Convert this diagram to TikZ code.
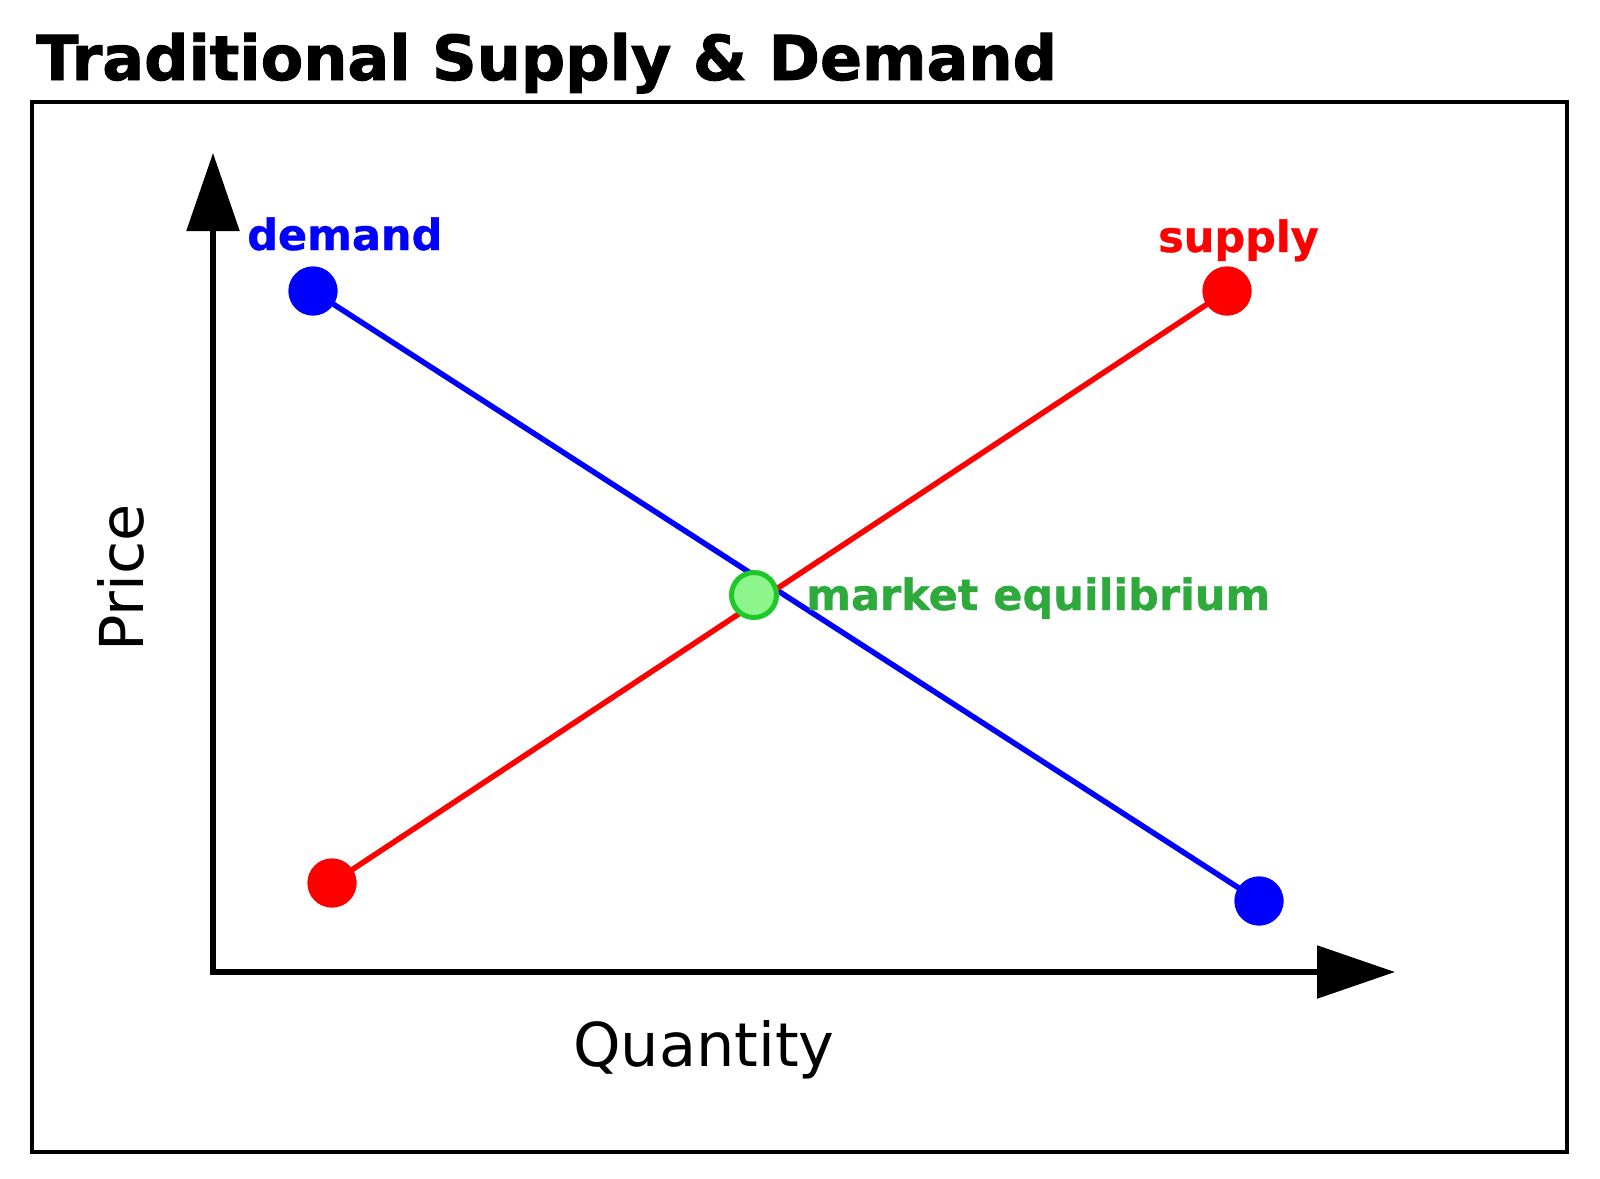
\documentclass[tikz,border=0pt]{standalone}
\usepackage{fontspec}
\setmainfont{DejaVu Sans}
\newfontfamily\heavyfont{DejaVu Sans Bold}[FakeBold=1.5]
\newfontfamily\labelfont{DejaVu Sans Bold}[FakeBold=0.8]
\usetikzlibrary{arrows.meta}
\definecolor{eqtext}{RGB}{46,170,60}
\definecolor{eqfill}{RGB}{140,245,140}
\definecolor{eqdraw}{RGB}{30,200,40}
\tikzset{
  dot/.style={circle,inner sep=0pt,minimum size=49pt,fill=#1},
  curve/.style={line width=5.5pt,draw=#1},
  lbl/.style={inner sep=0pt,anchor=base west,font=\fontsize{43}{50}\labelfont,text=#1},
  axlbl/.style={inner sep=0pt,anchor=base west,font=\fontsize{60.5}{70}\selectfont},
}
\begin{document}
\begin{tikzpicture}[x=1pt,y=-1pt]
\useasboundingbox (0,0) rectangle (1600,1178);
\node[inner sep=0pt,anchor=base west,font=\fontsize{62}{70}\heavyfont] (title) at (36,80) {Traditional Supply \& Demand};
\draw[line width=3.5pt] (32,102) rectangle (1567,1152);
% axes
\coordinate (o) at (213,972);
\coordinate (ytip) at (213,153);
\coordinate (xtip) at (1395,972);
\draw[line width=5.5pt,line join=miter,{Triangle[length=78pt,width=52pt]}-{Triangle[length=78pt,width=52pt]}] (ytip) -- (o) -- (xtip);
\node[axlbl,rotate=90] (price) at (143,652) {Price};
\node[axlbl] (qty) at (573,1066) {Quantity};
% dots
\node[dot=blue] (d1) at (313,291) {};
\node[dot=blue] (d2) at (1259,901) {};
\node[dot=red] (s1) at (332,883) {};
\node[dot=red] (s2) at (1227,291) {};
\draw[curve=blue] (d1.center) -- (d2.center);
\draw[curve=red] (s1.center) -- (s2.center);
\node[dot=blue] at (d1) {};
\node[dot=blue] at (d2) {};
\node[dot=red] at (s1) {};
\node[dot=red] at (s2) {};
\node[circle,inner sep=0pt,minimum size=45pt,fill=eqfill,draw=eqdraw,line width=5pt] (eq) at (754,595) {};
\node[lbl=blue] (dl) at (247,250) {demand};
\node[lbl=red] (sl) at (1158,252) {supply};
\node[lbl=eqtext] (el) at (806,610) {market equilibrium};
\end{tikzpicture}
\end{document}
